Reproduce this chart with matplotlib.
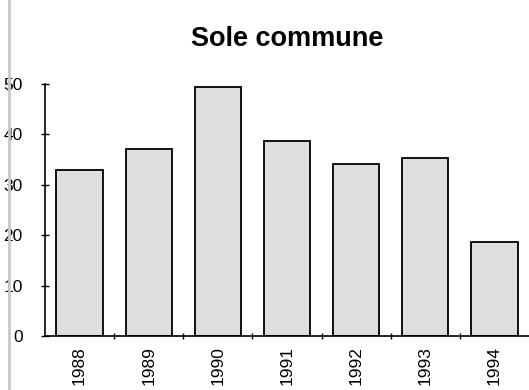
import matplotlib
matplotlib.use('Agg')
import matplotlib.pyplot as plt
from matplotlib.lines import Line2D

annees = ['1988', '1989', '1990', '1991', '1992', '1993', '1994']
valeurs = [33, 37, 49.4, 38.6, 34.1, 35.4, 18.7]
yticks = [0, 10, 20, 30, 40, 50]

plt.rcParams['font.family'] = ['Liberation Sans', 'DejaVu Sans']

fig = plt.figure(figsize=(5.29, 3.9), dpi=100)
ax = fig.add_axes([0.085, 0.138, 0.915, 0.647])

x = range(len(annees))
ax.bar(x, valeurs, width=0.67, color='#dedede', edgecolor='black', linewidth=1.3)

ax.set_xlim(-0.5, len(annees) - 0.5)
ax.set_ylim(0, 50)
ax.set_yticks(yticks)
ax.set_yticklabels([str(v) for v in yticks], fontsize=12.5)

# etiquettes au centre, petits traits entre les categories
ax.set_xticks(list(x))
ax.set_xticklabels(annees, rotation=90, fontsize=12.5)
ax.tick_params(axis='x', length=0, pad=7)
ax.set_xticks([i + 0.5 for i in x][:-1], minor=True)
ax.tick_params(axis='x', which='minor', length=4, direction='inout', width=1)
ax.tick_params(axis='y', length=6, direction='inout', width=1, pad=13)

for s in ['top', 'right']:
    ax.spines[s].set_visible(False)
ax.spines['left'].set_linewidth(1.2)
ax.spines['bottom'].set_linewidth(1.2)

fig.text(0.543, 0.90, 'Sole commune', ha='center', va='center',
         fontsize=19.5, fontweight='bold')

# trait gris du scan a gauche
fig.add_artist(Line2D([0.017, 0.017], [0, 1], color='#c8c8c8', linewidth=2))

fig.savefig('out.png', dpi=100)
